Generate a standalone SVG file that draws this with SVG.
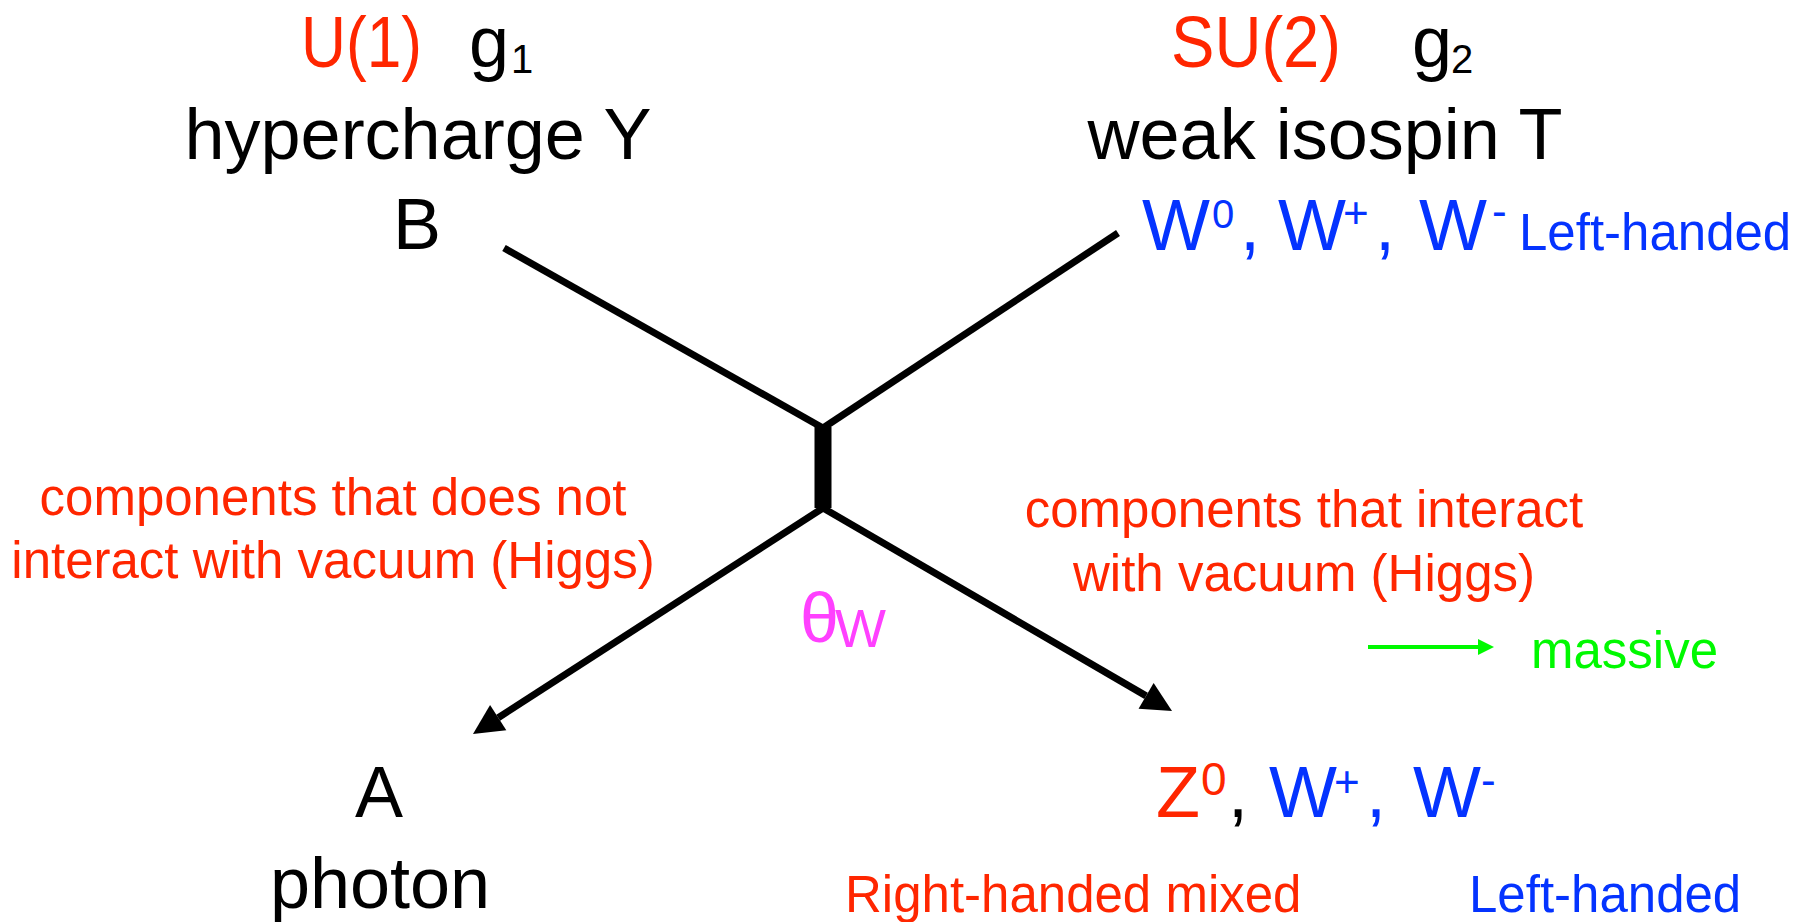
<svg xmlns="http://www.w3.org/2000/svg" width="1812" height="922" viewBox="0 0 1812 922">
<style>
text{font-family:"Liberation Sans",Arial,sans-serif;}
.big{font-size:72px;}
.sm{font-size:51px;}
.sup{font-size:44px;}
.red{fill:#FF2600;}
.blue{fill:#0433FF;}
.blk{fill:#000;}
.mag{fill:#FF40FF;}
.grn{fill:#00F900;}
.ln{stroke:#000;stroke-width:7;fill:none;}
</style>
<defs>
<marker id="ah" markerUnits="userSpaceOnUse" markerWidth="30" markerHeight="30" refX="0" refY="15" orient="auto" overflow="visible">
<path d="M0,0 L30,15 L0,30 z" fill="#000"/>
</marker>
<marker id="ahg" markerUnits="userSpaceOnUse" markerWidth="16" markerHeight="16" refX="0" refY="8" orient="auto" overflow="visible">
<path d="M0,0 L16,8 L0,16 z" fill="#00F900"/>
</marker>
</defs>
<rect width="1812" height="922" fill="#fff"/>

<g id="connectors">
<line class="ln" x1="504" y1="248" x2="823" y2="428"/>
<line class="ln" x1="1118" y1="233" x2="823" y2="428"/>
<line x1="823" y1="427" x2="823" y2="508" stroke="#000" stroke-width="17"/>
<line class="ln" x1="823" y1="508" x2="498.2" y2="717.7" marker-end="url(#ah)"/>
<line class="ln" x1="823" y1="508" x2="1146.1" y2="695.9" marker-end="url(#ah)"/>
<line x1="1368" y1="647" x2="1478" y2="647" stroke="#00F900" stroke-width="4" marker-end="url(#ahg)"/>
</g>

<g id="node-u1">
<text class="big red" x="301" y="67" textLength="121" lengthAdjust="spacingAndGlyphs">U(1)</text>
<text class="big blk" x="469" y="67">g</text>
<text class="blk" x="511" y="73" font-size="40">1</text>
<text class="big blk" x="418" y="159" text-anchor="middle">hypercharge Y</text>
<text class="big blk" x="417" y="249" text-anchor="middle">B</text>
</g>

<g id="node-su2">
<text class="big red" x="1171" y="67" textLength="170" lengthAdjust="spacingAndGlyphs">SU(2)</text>
<text class="big blk" x="1412" y="67">g</text>
<text class="blk" x="1451" y="73" font-size="40">2</text>
<text class="big blk" x="1325" y="159" text-anchor="middle">weak isospin T</text>
<text class="big blue" x="1142" y="250">W</text>
<text class="blue" x="1212" y="228" font-size="40">0</text>
<text class="big blue" x="1240" y="250">,</text>
<text class="big blue" x="1278" y="250">W</text>
<text class="sup blue" x="1343" y="228">+</text>
<text class="big blue" x="1375" y="250">,</text>
<text class="big blue" x="1419" y="250">W</text>
<text class="sup blue" x="1492" y="226">-</text>
<text class="sm blue" x="1519" y="250">Left-handed</text>
</g>

<g id="label-left">
<text class="sm red" x="333" y="515" text-anchor="middle">components that does not</text>
<text class="sm red" x="333" y="578" text-anchor="middle">interact with vacuum (Higgs)</text>
</g>

<g id="label-right">
<text class="sm red" x="1304" y="527" text-anchor="middle">components that interact</text>
<text class="sm red" x="1304" y="591" text-anchor="middle">with vacuum (Higgs)</text>
</g>

<g id="label-theta">
<text class="mag" x="800" y="642" font-size="70">θ</text>
<text class="mag" x="835" y="647" font-size="54">W</text>
</g>

<g id="label-massive">
<text class="sm grn" x="1531" y="668">massive</text>
</g>

<g id="node-photon">
<text class="big blk" x="379" y="817" text-anchor="middle">A</text>
<text class="big blk" x="380" y="908" text-anchor="middle">photon</text>
</g>

<g id="node-z">
<text class="big red" x="1156" y="817">Z</text>
<text class="red" x="1201" y="795" font-size="46">0</text>
<text class="big blk" x="1228" y="817">,</text>
<text class="big blue" x="1269" y="817">W</text>
<text class="sup blue" x="1334" y="797">+</text>
<text class="big blue" x="1366" y="817">,</text>
<text class="big blue" x="1413" y="817">W</text>
<text class="sup blue" x="1481" y="795">-</text>
<text class="sm red" x="845" y="912">Right-handed mixed</text>
<text class="sm blue" x="1469" y="912">Left-handed</text>
</g>
</svg>
